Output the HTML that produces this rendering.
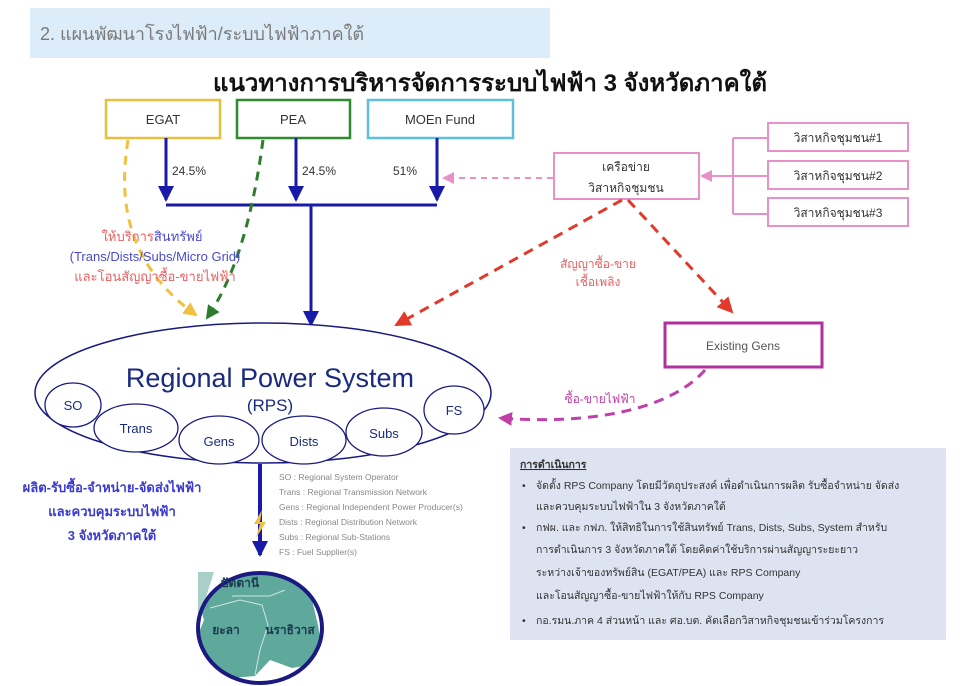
<!DOCTYPE html>
<html><head><meta charset="utf-8"><style>
html,body{margin:0;padding:0;background:#fff;}
svg{display:block;font-family:"Liberation Sans","Noto Sans CJK SC","WenQuanYi Zen Hei",sans-serif;}
</style></head><body>
<svg width="960" height="686" viewBox="0 0 960 686" xmlns="http://www.w3.org/2000/svg">
<defs>
<marker id="abig" markerWidth="16" markerHeight="16" refX="14" refY="8" orient="auto" markerUnits="userSpaceOnUse"><path d="M0,0 L16,8 L0,16 z" fill="#1a1aa8"/></marker>
<marker id="ar" markerWidth="16" markerHeight="16" refX="14" refY="8" orient="auto" markerUnits="userSpaceOnUse"><path d="M0,0 L16,8 L0,16 z" fill="#e23a2a"/></marker>
<marker id="ay" markerWidth="14" markerHeight="14" refX="12" refY="7" orient="auto" markerUnits="userSpaceOnUse"><path d="M0,0 L14,7 L0,14 z" fill="#f0c040"/></marker>
<marker id="ag" markerWidth="14" markerHeight="14" refX="12" refY="7" orient="auto" markerUnits="userSpaceOnUse"><path d="M0,0 L14,7 L0,14 z" fill="#2e7d2e"/></marker>
<marker id="ap" markerWidth="12" markerHeight="12" refX="10" refY="6" orient="auto" markerUnits="userSpaceOnUse"><path d="M0,0 L12,6 L0,12 z" fill="#e890c8"/></marker>
<marker id="am" markerWidth="14" markerHeight="14" refX="12" refY="7" orient="auto" markerUnits="userSpaceOnUse"><path d="M0,0 L14,7 L0,14 z" fill="#c040a8"/></marker>
</defs>
<rect x="30" y="8" width="520" height="50" fill="#dcecf8"/>
<text x="40" y="40" font-size="18" fill="#7a7a7a">2. แผนพัฒนาโรงไฟฟ้า/ระบบไฟฟ้าภาคใต้</text>
<text x="490" y="91" font-size="24" font-weight="bold" fill="#111" text-anchor="middle">แนวทางการบริหารจัดการระบบไฟฟ้า 3 จังหวัดภาคใต้</text>

<rect x="106" y="100" width="114" height="38" fill="#fff" stroke="#e8c040" stroke-width="2.5"/>
<text x="163" y="124" font-size="13" text-anchor="middle" fill="#333">EGAT</text>
<rect x="237" y="100" width="113" height="38" fill="#fff" stroke="#2e8b2e" stroke-width="2.5"/>
<text x="293" y="124" font-size="13" text-anchor="middle" fill="#333">PEA</text>
<rect x="368" y="100" width="145" height="38" fill="#fff" stroke="#5bc0e0" stroke-width="2.5"/>
<text x="440" y="124" font-size="13" text-anchor="middle" fill="#333">MOEn Fund</text>

<g stroke="#1a1aa8" stroke-width="3" fill="none">
<line x1="166" y1="138" x2="166" y2="200" marker-end="url(#abig)"/>
<line x1="296" y1="138" x2="296" y2="200" marker-end="url(#abig)"/>
<line x1="437" y1="138" x2="437" y2="200" marker-end="url(#abig)"/>
<line x1="166" y1="205" x2="437" y2="205"/>
<line x1="311" y1="205" x2="311" y2="325" marker-end="url(#abig)"/>
</g>
<text x="172" y="175" font-size="12" fill="#333">24.5%</text>
<text x="302" y="175" font-size="12" fill="#333">24.5%</text>
<text x="393" y="175" font-size="12" fill="#333">51%</text>

<path d="M128,140 C120,190 120,260 196,315" stroke="#f0c040" stroke-width="3" stroke-dasharray="9,7" fill="none" marker-end="url(#ay)"/>
<path d="M263,140 C255,200 240,270 207,318" stroke="#2e7d2e" stroke-width="3" stroke-dasharray="9,7" fill="none" marker-end="url(#ag)"/>
<text x="152" y="241" font-size="13" text-anchor="middle"><tspan fill="#e86060">ให้บริการ</tspan><tspan fill="#4a4ad0">สินทรัพย์</tspan></text>
<text x="155" y="261" font-size="13" text-anchor="middle" fill="#4a4ad0">(Trans/Dists/Subs/Micro Grid)</text>
<text x="155" y="281" font-size="13" text-anchor="middle" fill="#e86060">และโอนสัญญาซื้อ-ขายไฟฟ้า</text>

<rect x="554" y="153" width="145" height="46" fill="#fff" stroke="#e890c8" stroke-width="2"/>
<text x="626" y="171" font-size="12" text-anchor="middle" fill="#333">เครือข่าย</text>
<text x="626" y="192" font-size="12" text-anchor="middle" fill="#333">วิสาหกิจชุมชน</text>
<line x1="553" y1="178" x2="444" y2="178" stroke="#e890c8" stroke-width="2" stroke-dasharray="6,5" marker-end="url(#ap)"/>
<g stroke="#e890c8" stroke-width="2" fill="none">
<line x1="733" y1="138" x2="733" y2="214"/>
<line x1="733" y1="138" x2="768" y2="138"/>
<line x1="733" y1="176" x2="768" y2="176"/>
<line x1="733" y1="214" x2="768" y2="214"/>
<line x1="733" y1="176" x2="702" y2="176" marker-end="url(#ap)"/>
<rect x="768" y="123" width="140" height="28" fill="#fff"/>
<rect x="768" y="161" width="140" height="28" fill="#fff"/>
<rect x="768" y="198" width="140" height="28" fill="#fff"/>
</g>
<text x="838" y="142" font-size="12" text-anchor="middle" fill="#333">วิสาหกิจชุมชน#1</text>
<text x="838" y="180" font-size="12" text-anchor="middle" fill="#333">วิสาหกิจชุมชน#2</text>
<text x="838" y="217" font-size="12" text-anchor="middle" fill="#333">วิสาหกิจชุมชน#3</text>

<line x1="622" y1="200" x2="396" y2="325" stroke="#e23a2a" stroke-width="3" stroke-dasharray="10,7" marker-end="url(#ar)"/>
<line x1="628" y1="200" x2="732" y2="312" stroke="#e23a2a" stroke-width="3" stroke-dasharray="10,7" marker-end="url(#ar)"/>
<text x="598" y="268" font-size="12" text-anchor="middle" fill="#e86060">สัญญาซื้อ-ขาย</text>
<text x="598" y="286" font-size="12" text-anchor="middle" fill="#e86060">เชื้อเพลิง</text>

<rect x="665" y="323" width="157" height="44" fill="#fff" stroke="#b0309f" stroke-width="3"/>
<text x="743" y="350" font-size="12" text-anchor="middle" fill="#555">Existing Gens</text>
<path d="M705,370 C670,410 590,425 500,418" stroke="#c040a8" stroke-width="3" stroke-dasharray="10,7" fill="none" marker-end="url(#am)"/>
<text x="600" y="403" font-size="12" text-anchor="middle" fill="#c040a8">ซื้อ-ขายไฟฟ้า</text>

<ellipse cx="263" cy="393" rx="228" ry="70" fill="#fff" stroke="#1a1a80" stroke-width="1.5"/>
<g fill="#fff" stroke="#1a1a80" stroke-width="1.3">
<ellipse cx="73" cy="405" rx="28" ry="22"/>
<ellipse cx="136" cy="428" rx="42" ry="24"/>
<ellipse cx="219" cy="440" rx="40" ry="24"/>
<ellipse cx="304" cy="440" rx="42" ry="24"/>
<ellipse cx="384" cy="432" rx="38" ry="24"/>
<ellipse cx="454" cy="410" rx="30" ry="24"/>
</g>
<text x="270" y="387" font-size="27" text-anchor="middle" fill="#1a2a80">Regional Power System</text>
<text x="270" y="411" font-size="17" text-anchor="middle" fill="#1a2a80">(RPS)</text>
<text x="73" y="410" font-size="13" text-anchor="middle" fill="#1a2a80">SO</text>
<text x="136" y="433" font-size="13" text-anchor="middle" fill="#1a2a80">Trans</text>
<text x="219" y="446" font-size="13" text-anchor="middle" fill="#1a2a80">Gens</text>
<text x="304" y="446" font-size="13" text-anchor="middle" fill="#1a2a80">Dists</text>
<text x="384" y="438" font-size="13" text-anchor="middle" fill="#1a2a80">Subs</text>
<text x="454" y="415" font-size="13" text-anchor="middle" fill="#1a2a80">FS</text>

<line x1="260" y1="464" x2="260" y2="555" stroke="#1a1aa8" stroke-width="4" marker-end="url(#abig)"/>
<path d="M262,510 l-8,14 6,0 -4,14 10,-16 -6,0 z" fill="#f0c040"/>
<text x="112" y="492" font-size="13" font-weight="bold" text-anchor="middle" fill="#3a3ad0">ผลิต-รับซื้อ-จำหน่าย-จัดส่งไฟฟ้า</text>
<text x="112" y="516" font-size="13" font-weight="bold" text-anchor="middle" fill="#3a3ad0">และควบคุมระบบไฟฟ้า</text>
<text x="112" y="540" font-size="13" font-weight="bold" text-anchor="middle" fill="#3a3ad0">3 จังหวัดภาคใต้</text>

<g font-size="8.5" fill="#888">
<text x="279" y="480">SO : Regional System Operator</text>
<text x="279" y="495">Trans : Regional Transmission Network</text>
<text x="279" y="510">Gens : Regional Independent Power Producer(s)</text>
<text x="279" y="525">Dists : Regional Distribution Network</text>
<text x="279" y="540">Subs : Regional Sub-Stations</text>
<text x="279" y="555">FS : Fuel Supplier(s)</text>
</g>

<clipPath id="cc"><ellipse cx="260" cy="628" rx="62" ry="55"/></clipPath>
<path d="M198,568 L300,578 L312,600 L318,625 L322,650 L310,665 L292,668 L270,660 L255,676 L232,678 L220,668 L205,658 L196,640 L204,620 L198,600 z" fill="#5fa89c" clip-path="url(#cc)"/>
<path d="M198,572 L214,572 L205,600 L198,620z" fill="#a8d0c8"/>
<path d="M210,608 L240,600 L262,605 L268,625 L260,650 L255,675" stroke="#cfe6e0" stroke-width="1" fill="none" clip-path="url(#cc)"/>
<path d="M232,596 L270,596 L285,590" stroke="#cfe6e0" stroke-width="1" fill="none" clip-path="url(#cc)"/>
<ellipse cx="260" cy="628" rx="62" ry="55" fill="none" stroke="#1a1a80" stroke-width="4"/>
<text x="240" y="587" font-size="12" font-weight="bold" text-anchor="middle" fill="#1a3a50">ปัตตานี</text>
<text x="226" y="634" font-size="12" font-weight="bold" text-anchor="middle" fill="#1a3a50">ยะลา</text>
<text x="290" y="634" font-size="12" font-weight="bold" text-anchor="middle" fill="#1a3a50">นราธิวาส</text>

<rect x="510" y="448" width="436" height="192" fill="#dde3f0"/>
<g font-size="10.5" fill="#333">
<text x="520" y="468" text-decoration="underline" font-weight="bold">การดำเนินการ</text>
<text x="522" y="489">•</text><text x="536" y="489">จัดตั้ง RPS Company โดยมีวัตถุประสงค์ เพื่อดำเนินการผลิต รับซื้อจำหน่าย จัดส่ง</text>
<text x="536" y="510">และควบคุมระบบไฟฟ้าใน 3 จังหวัดภาคใต้</text>
<text x="522" y="531">•</text><text x="536" y="531">กฟผ. และ กฟภ. ให้สิทธิในการใช้สินทรัพย์ Trans, Dists, Subs, System สำหรับ</text>
<text x="536" y="553">การดำเนินการ 3 จังหวัดภาคใต้ โดยคิดค่าใช้บริการผ่านสัญญาระยะยาว</text>
<text x="536" y="576">ระหว่างเจ้าของทรัพย์สิน (EGAT/PEA) และ RPS Company</text>
<text x="536" y="599">และโอนสัญญาซื้อ-ขายไฟฟ้าให้กับ RPS Company</text>
<text x="522" y="624">•</text><text x="536" y="624">กอ.รมน.ภาค 4 ส่วนหน้า และ ศอ.บต. คัดเลือกวิสาหกิจชุมชนเข้าร่วมโครงการ</text>
</g>
</svg>
</body></html>
